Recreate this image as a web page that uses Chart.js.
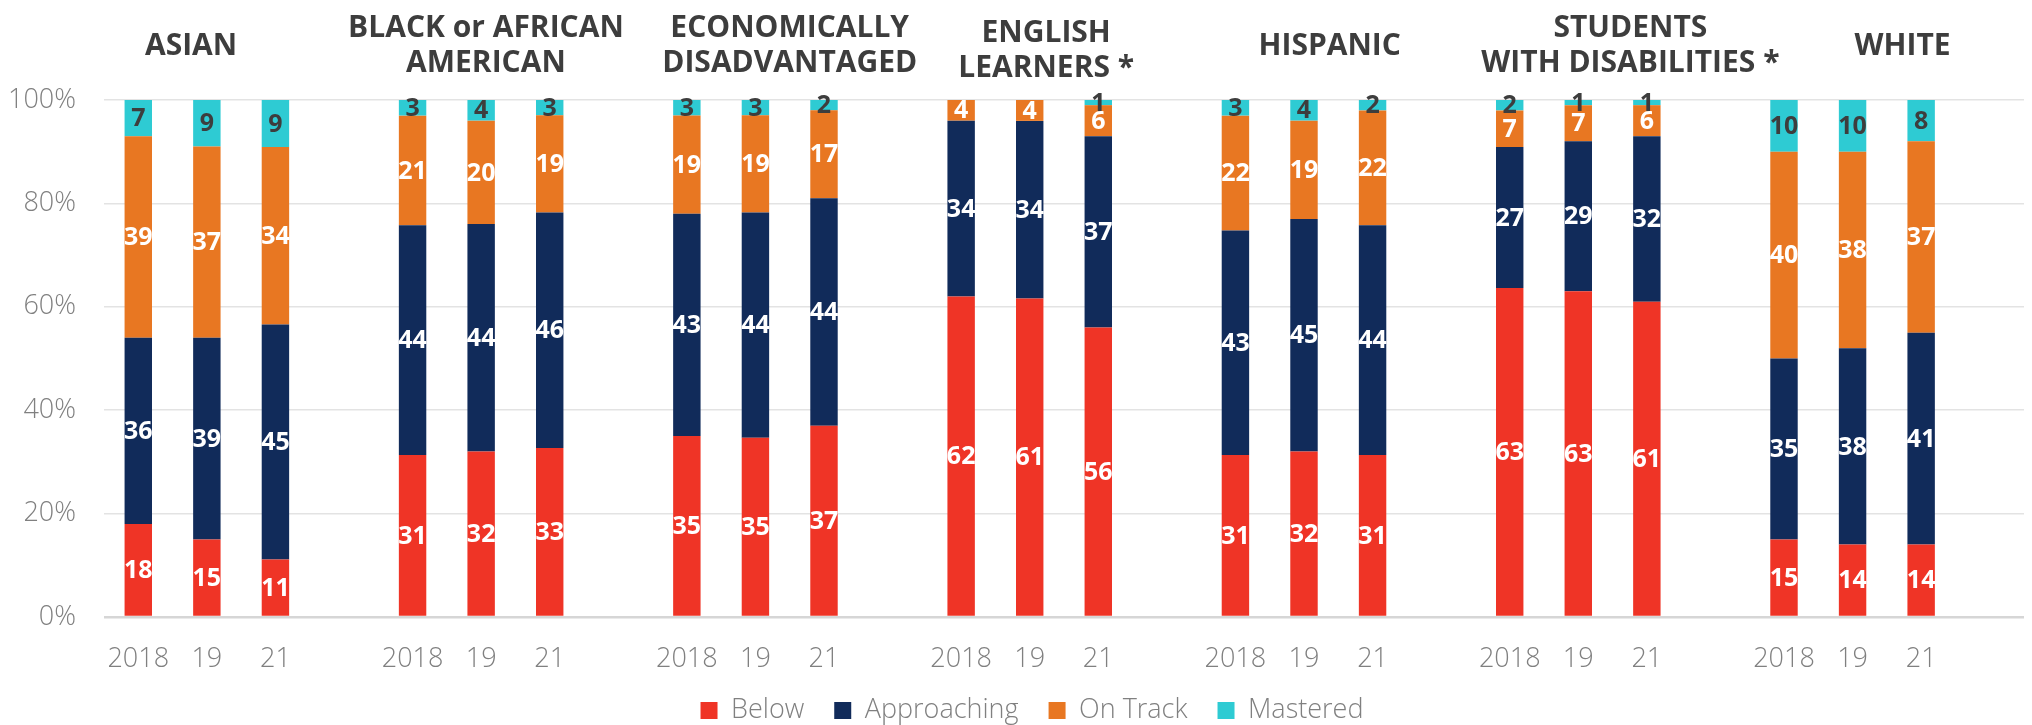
<!DOCTYPE html>
<html>
<head>
<meta charset="utf-8">
<script src="https://cdn.jsdelivr.net/npm/chart.js@4.4.1/dist/chart.umd.min.js"></script>
<style>
  body { margin: 0; background: #fff; }
  #wrap { width: 2032px; height: 725px; }
</style>
</head>
<body>
<div id="wrap"><canvas id="chart" width="2032" height="725"></canvas></div>
<script>
const groups = [
    ['ASIAN'],
    ['BLACK or AFRICAN', 'AMERICAN'],
    ['ECONOMICALLY', 'DISADVANTAGED'],
    ['ENGLISH', 'LEARNERS *'],
    ['HISPANIC'],
    ['STUDENTS', 'WITH DISABILITIES *'],
    ['WHITE']
];
const years = ['2018', '19', '21'];

// percent of students per level, 3 years per group
const below       = [18, 15, 11, 31, 32, 33, 35, 35, 37, 62, 61, 56, 31, 32, 31, 63, 63, 61, 15, 14, 14];
const approaching = [36, 39, 45, 44, 44, 46, 43, 44, 44, 34, 34, 37, 43, 45, 44, 27, 29, 32, 35, 38, 41];
const onTrack     = [39, 37, 34, 21, 20, 19, 19, 19, 17,  4,  4,  6, 22, 19, 22,  7,  7,  6, 40, 38, 37];
const mastered    = [ 7,  9,  9,  3,  4,  3,  3,  3,  2,  0,  0,  1,  3,  4,  2,  2,  1,  1, 10, 10,  8];

const levels = ['Below', 'Approaching', 'On Track', 'Mastered'];
const colors = ['#ef3426', '#112b5a', '#e87722', '#2ecbd3'];
const labelColors = ['#ffffff', '#ffffff', '#ffffff', '#3d3d3d'];

// title placement: shift from the middle bar (in slots) and first baseline
const titleShift = [-0.23, 0.07, 0.5, 0.24, 0.375, 0.76, 0.73];
const titleBase = [55, 37, 37, 42, 55, 37, 55];
const titleLine = 35;

const FONT = '"Open Sans", "Noto Sans", sans-serif';
const GREY = '#808080';

// 4 slots per group: 3 years + a gap
const labels = [];
groups.forEach(() => { years.forEach(y => labels.push(y)); labels.push(''); });

const series = [below, approaching, onTrack, mastered];
function slotted(arr) {
    const out = [];
    for (let g = 0; g < groups.length; g++) {
        for (let k = 0; k < 3; k++) out.push(arr[g * 3 + k]);
        out.push(null);
    }
    return out;
}
const raw = series.map(slotted);
// 100% stacked: each column scaled to its total
const totals = raw[0].map((_, i) => raw[0][i] === null ? null : raw.reduce((s, a) => s + a[i], 0));
const scaled = raw.map(a => a.map((v, i) => v === null ? null : v / totals[i] * 100));

const barLabels = {
    id: 'barLabels',
    afterDatasetsDraw(chart) {
        const ctx = chart.ctx;
        ctx.save();
        ctx.font = 'bold 25px ' + FONT;
        ctx.textAlign = 'center';
        ctx.textBaseline = 'middle';
        chart.data.datasets.forEach((ds, di) => {
            const meta = chart.getDatasetMeta(di);
            meta.data.forEach((bar, i) => {
                const v = raw[di][i];
                if (!v) return;
                ctx.fillStyle = labelColors[di];
                ctx.fillText(String(v), bar.x, (bar.y + bar.base) / 2 + 1);
            });
        });
        ctx.restore();
    }
};

const groupTitles = {
    id: 'groupTitles',
    afterDraw(chart) {
        const ctx = chart.ctx;
        const x = chart.scales.x;
        ctx.save();
        ctx.font = 'bold 30px ' + FONT;
        ctx.fillStyle = '#3d3d3d';
        ctx.textAlign = 'center';
        ctx.textBaseline = 'alphabetic';
        groups.forEach((lines, g) => {
            const px = x.getPixelForValue(g * 4 + 1 + titleShift[g]);
            lines.forEach((t, j) => ctx.fillText(t, px, titleBase[g] + j * titleLine));
        });
        ctx.restore();
    }
};

// legend sits a little right of the canvas centre in the original
const legendNudge = {
    id: 'legendNudge',
    afterLayout(chart) {
        chart.legend.left += 20;
        chart.legend.right += 20;
    }
};

function draw() {
    new Chart(document.getElementById('chart'), {
        type: 'bar',
        data: {
            labels: labels,
            datasets: levels.map((name, i) => ({
                label: name,
                data: scaled[i],
                backgroundColor: colors[i],
                borderWidth: 0,
                barPercentage: 0.4,
                categoryPercentage: 1.0
            }))
        },
        options: {
            responsive: false,
            animation: false,
            layout: { padding: { left: 0, right: 8, top: 100, bottom: -9 } },
            scales: {
                x: {
                    stacked: true,
                    grid: { display: false },
                    border: { display: false },
                    ticks: {
                        color: GREY,
                        font: { family: FONT, size: 27, weight: '300' },
                        padding: 18,
                        maxRotation: 0,
                        autoSkip: false
                    },
                    afterFit(scale) { scale.height = 50; }
                },
                y: {
                    stacked: true,
                    min: 0,
                    max: 100,
                    grid: {
                        drawTicks: false,
                        color: c => c.tick.value === 0 ? '#d6d6d6' : '#e3e3e3',
                        lineWidth: c => c.tick.value === 0 ? 2.5 : 1.5
                    },
                    border: { display: false },
                    ticks: {
                        stepSize: 20,
                        color: GREY,
                        font: { family: FONT, size: 27, weight: '300' },
                        padding: 28,
                        callback: v => v + '%'
                    },
                    afterFit(scale) { scale.width = 104; }
                }
            },
            plugins: {
                legend: {
                    position: 'bottom',
                    labels: {
                        boxWidth: 17,
                        boxHeight: 17,
                        padding: 30,
                        color: GREY,
                        font: { family: FONT, size: 27, weight: '300' }
                    }
                },
                tooltip: { enabled: false }
            }
        },
        plugins: [barLabels, groupTitles, legendNudge]
    });
}

Promise.all([
    document.fonts.load('300 27px "Open Sans"'),
    document.fonts.load('bold 30px "Open Sans"')
]).then(draw, draw);
</script>
</body>
</html>
